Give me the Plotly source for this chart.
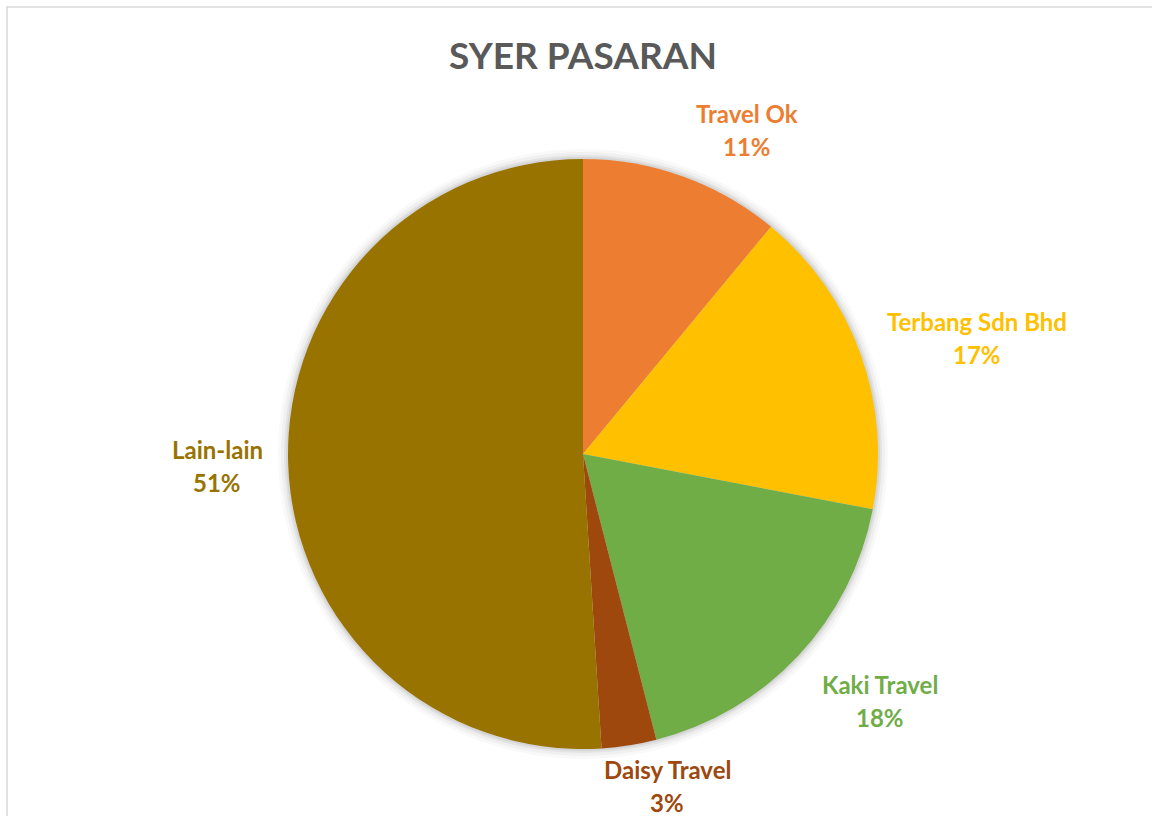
import math
import plotly.graph_objects as go

# ---- data ----
labels = ["Travel Ok", "Terbang Sdn Bhd", "Kaki Travel", "Daisy Travel", "Lain-lain"]
values = [11, 17, 18, 3, 51]
colors = ["#ED7D31", "#FFC000", "#70AD47", "#9E480E", "#997300"]
title_text = "SYER PASARAN"

# ---- layout constants ----
W, H = 1152, 816
cx, cy, R = 583, 454, 295            # pie centre / radius in px
label_dist = [364, 411, 386, 342, 366]   # px from centre for data labels
label_angle_off = [7, 3.4, -3.6, -5.3, 0]  # degrees tweak (best-fit style)
FONT = "Lato"
LFS = 24

fig = go.Figure()
fig.add_trace(go.Pie(
    labels=labels, values=values,
    marker=dict(colors=colors, line=dict(width=0)),
    sort=False, direction="clockwise", rotation=0,
    textinfo="none", hoverinfo="label+percent", showlegend=False,
    domain=dict(x=[(cx - R) / W, (cx + R) / W], y=[(H - cy - R) / H, (H - cy + R) / H]),
))

shapes = []
# soft shadow under the pie
for d, op in [(10, 0.025), (7, 0.035), (4, 0.05), (2, 0.06)]:
    shapes.append(dict(type="circle", xref="paper", yref="paper", layer="below",
                       x0=(cx - R - d) / W, x1=(cx + R + d) / W,
                       y0=(H - cy - R - d) / H, y1=(H - cy + R + d) / H,
                       fillcolor=f"rgba(0,0,0,{op})", line=dict(width=0)))
# chart area border (only top/left visible)
shapes.append(dict(type="rect", xref="paper", yref="paper",
                   x0=7 / W, x1=1.2, y0=-0.2, y1=1 - 7 / H,
                   line=dict(color="#D9D9D9", width=1.5), fillcolor="rgba(0,0,0,0)"))

annotations = [dict(text=f"<b>{title_text}</b>", x=cx / W, y=1 - 55 / H, xref="paper", yref="paper",
                    showarrow=False, font=dict(family=FONT, size=37, color="#595959"),
                    xanchor="center", yanchor="middle")]

total = sum(values)
cum = 0
for lab, v, col, dist, off in zip(labels, values, colors, label_dist, label_angle_off):
    mid = (cum + v / 2) / total * 360 + off
    cum += v
    a = math.radians(mid)
    lx = cx + dist * math.sin(a)
    ly = cy - dist * math.cos(a)
    pct = round(v / total * 100)
    annotations.append(dict(text=f"<b>{lab}</b>", x=lx / W, y=1 - (ly - 16) / H,
                            xref="paper", yref="paper", showarrow=False,
                            font=dict(family=FONT, size=LFS, color=col),
                            xanchor="center", yanchor="middle"))
    annotations.append(dict(text=f"<b>{pct}%</b>", x=lx / W, y=1 - (ly + 17) / H,
                            xref="paper", yref="paper", showarrow=False,
                            font=dict(family=FONT, size=LFS, color=col),
                            xanchor="center", yanchor="middle"))

fig.update_layout(
    width=W, height=H, margin=dict(l=0, r=0, t=0, b=0),
    paper_bgcolor="white", plot_bgcolor="white",
    shapes=shapes, annotations=annotations,
)
fig.write_html("out.html", config={"displayModeBar": False})

# remove the default page margin so the figure fills the window exactly
with open("out.html", "r", encoding="utf-8") as f:
    html = f.read()
html = html.replace("<head>", "<head><style>html,body{margin:0;padding:0;overflow:hidden;}</style>", 1)
with open("out.html", "w", encoding="utf-8") as f:
    f.write(html)
